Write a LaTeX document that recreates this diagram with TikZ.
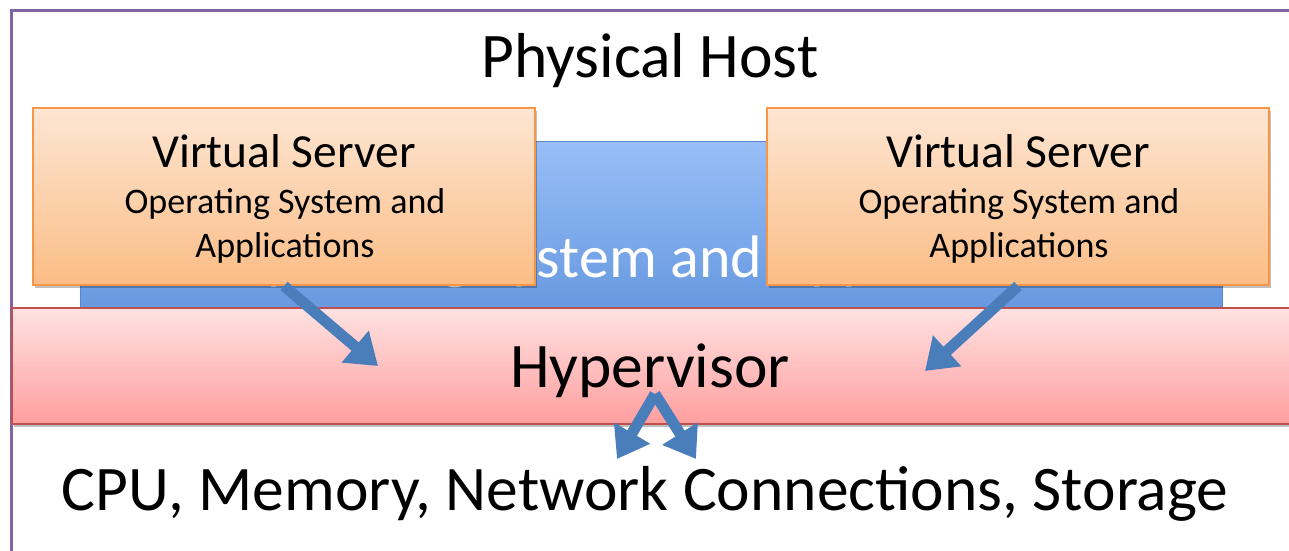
\documentclass[tikz,border=0pt]{standalone}
\usepackage{fontspec}
\setmainfont{Carlito}
\usetikzlibrary{arrows.meta,shadows}
\definecolor{hostframe}{HTML}{8064A2}
\definecolor{vsborder}{HTML}{F79646}
\definecolor{vstop}{HTML}{FDE6D3}
\definecolor{vsbottom}{HTML}{FBBD86}
\definecolor{ostop}{HTML}{98BEF7}
\definecolor{osbottom}{HTML}{6799E0}
\definecolor{osborder}{HTML}{5B86C8}
\definecolor{hvtop}{HTML}{FFE2E2}
\definecolor{hvbottom}{HTML}{FF9E9E}
\definecolor{hvborder}{HTML}{C0504D}
\definecolor{flow}{HTML}{4A7EBB}
\tikzset{
  x=1pt,y=-1pt,
  boxshadow/.style={drop shadow={shadow xshift=2pt,shadow yshift=-3pt,fill=black,opacity=0.25}},
  vserver/.style={draw=vsborder,line width=1.2pt,top color=vstop,bottom color=vsbottom,
    boxshadow,minimum width=502pt,minimum height=177pt,inner sep=0pt},
  bigtext/.style={anchor=base,inner sep=0pt,font=\fontsize{63.5}{66}\selectfont},
  vstitle/.style={anchor=base,inner sep=0pt,font=\fontsize{47.5}{50}\selectfont},
  vsline/.style={anchor=base,inner sep=0pt,font=\fontsize{36}{38}\selectfont},
  flowarrow/.style={draw=flow,line width=11pt,-{Triangle[width=40pt,length=30pt]}},
}
\begin{document}
\begin{tikzpicture}
\useasboundingbox (0,0) rectangle (1289,550);
% physical host frame, open to the right and below
\draw[hostframe,line width=3pt] (1300,10) -- (11,10) -- (11,560);
\node[bigtext] (host) at (650,77) {Physical Host};
% host operating system layer
\node[draw=osborder,line width=0.8pt,top color=ostop,bottom color=osbottom,
  minimum width=1142pt,minimum height=167pt,inner sep=0pt] (os) at (651,224.5) {};
\node[anchor=base,inner sep=0pt,text=white,font=\fontsize{60}{62}\selectfont] (ostext) at (651,277)
  {Operating System and Applications};
% hypervisor layer
\node[draw=hvborder,line width=1.2pt,top color=hvtop,bottom color=hvbottom,boxshadow,
  minimum width=1300pt,minimum height=116pt,inner sep=0pt] (hv) at (662,366) {};
\node[bigtext] (hvtext) at (650,387) {Hypervisor};
% virtual servers
\node[vserver] (vs1) at (284,196.5) {};
\node[vserver] (vs2) at (1018,196.5) {};
\node[vstitle] (vs1a) at (284,167) {Virtual Server};
\node[vsline]  (vs1b) at (285,213) {Operating System and};
\node[vsline]  (vs1c) at (285,257) {Applications};
\node[vstitle] (vs2a) at (1018,167) {Virtual Server};
\node[vsline]  (vs2b) at (1019,213) {Operating System and};
\node[vsline]  (vs2c) at (1019,257) {Applications};
% hardware resources
\node[bigtext] (hw) at (645,510) {CPU, Memory, Network Connections, Storage};
% arrows
\coordinate (a1s) at (284,286);
\coordinate (a1e) at (378,366);
\coordinate (a2s) at (1018,286);
\coordinate (a2e) at (925,371);
\coordinate (hvs) at (655,394);
\coordinate (hwl) at (617,459);
\coordinate (hwr) at (696,459);
\draw[flowarrow] (a1s) -- (a1e);
\draw[flowarrow] (a2s) -- (a2e);
\draw[flowarrow] (hvs) -- (hwl);
\draw[flowarrow] (hvs) -- (hwr);
\end{tikzpicture}
\end{document}
